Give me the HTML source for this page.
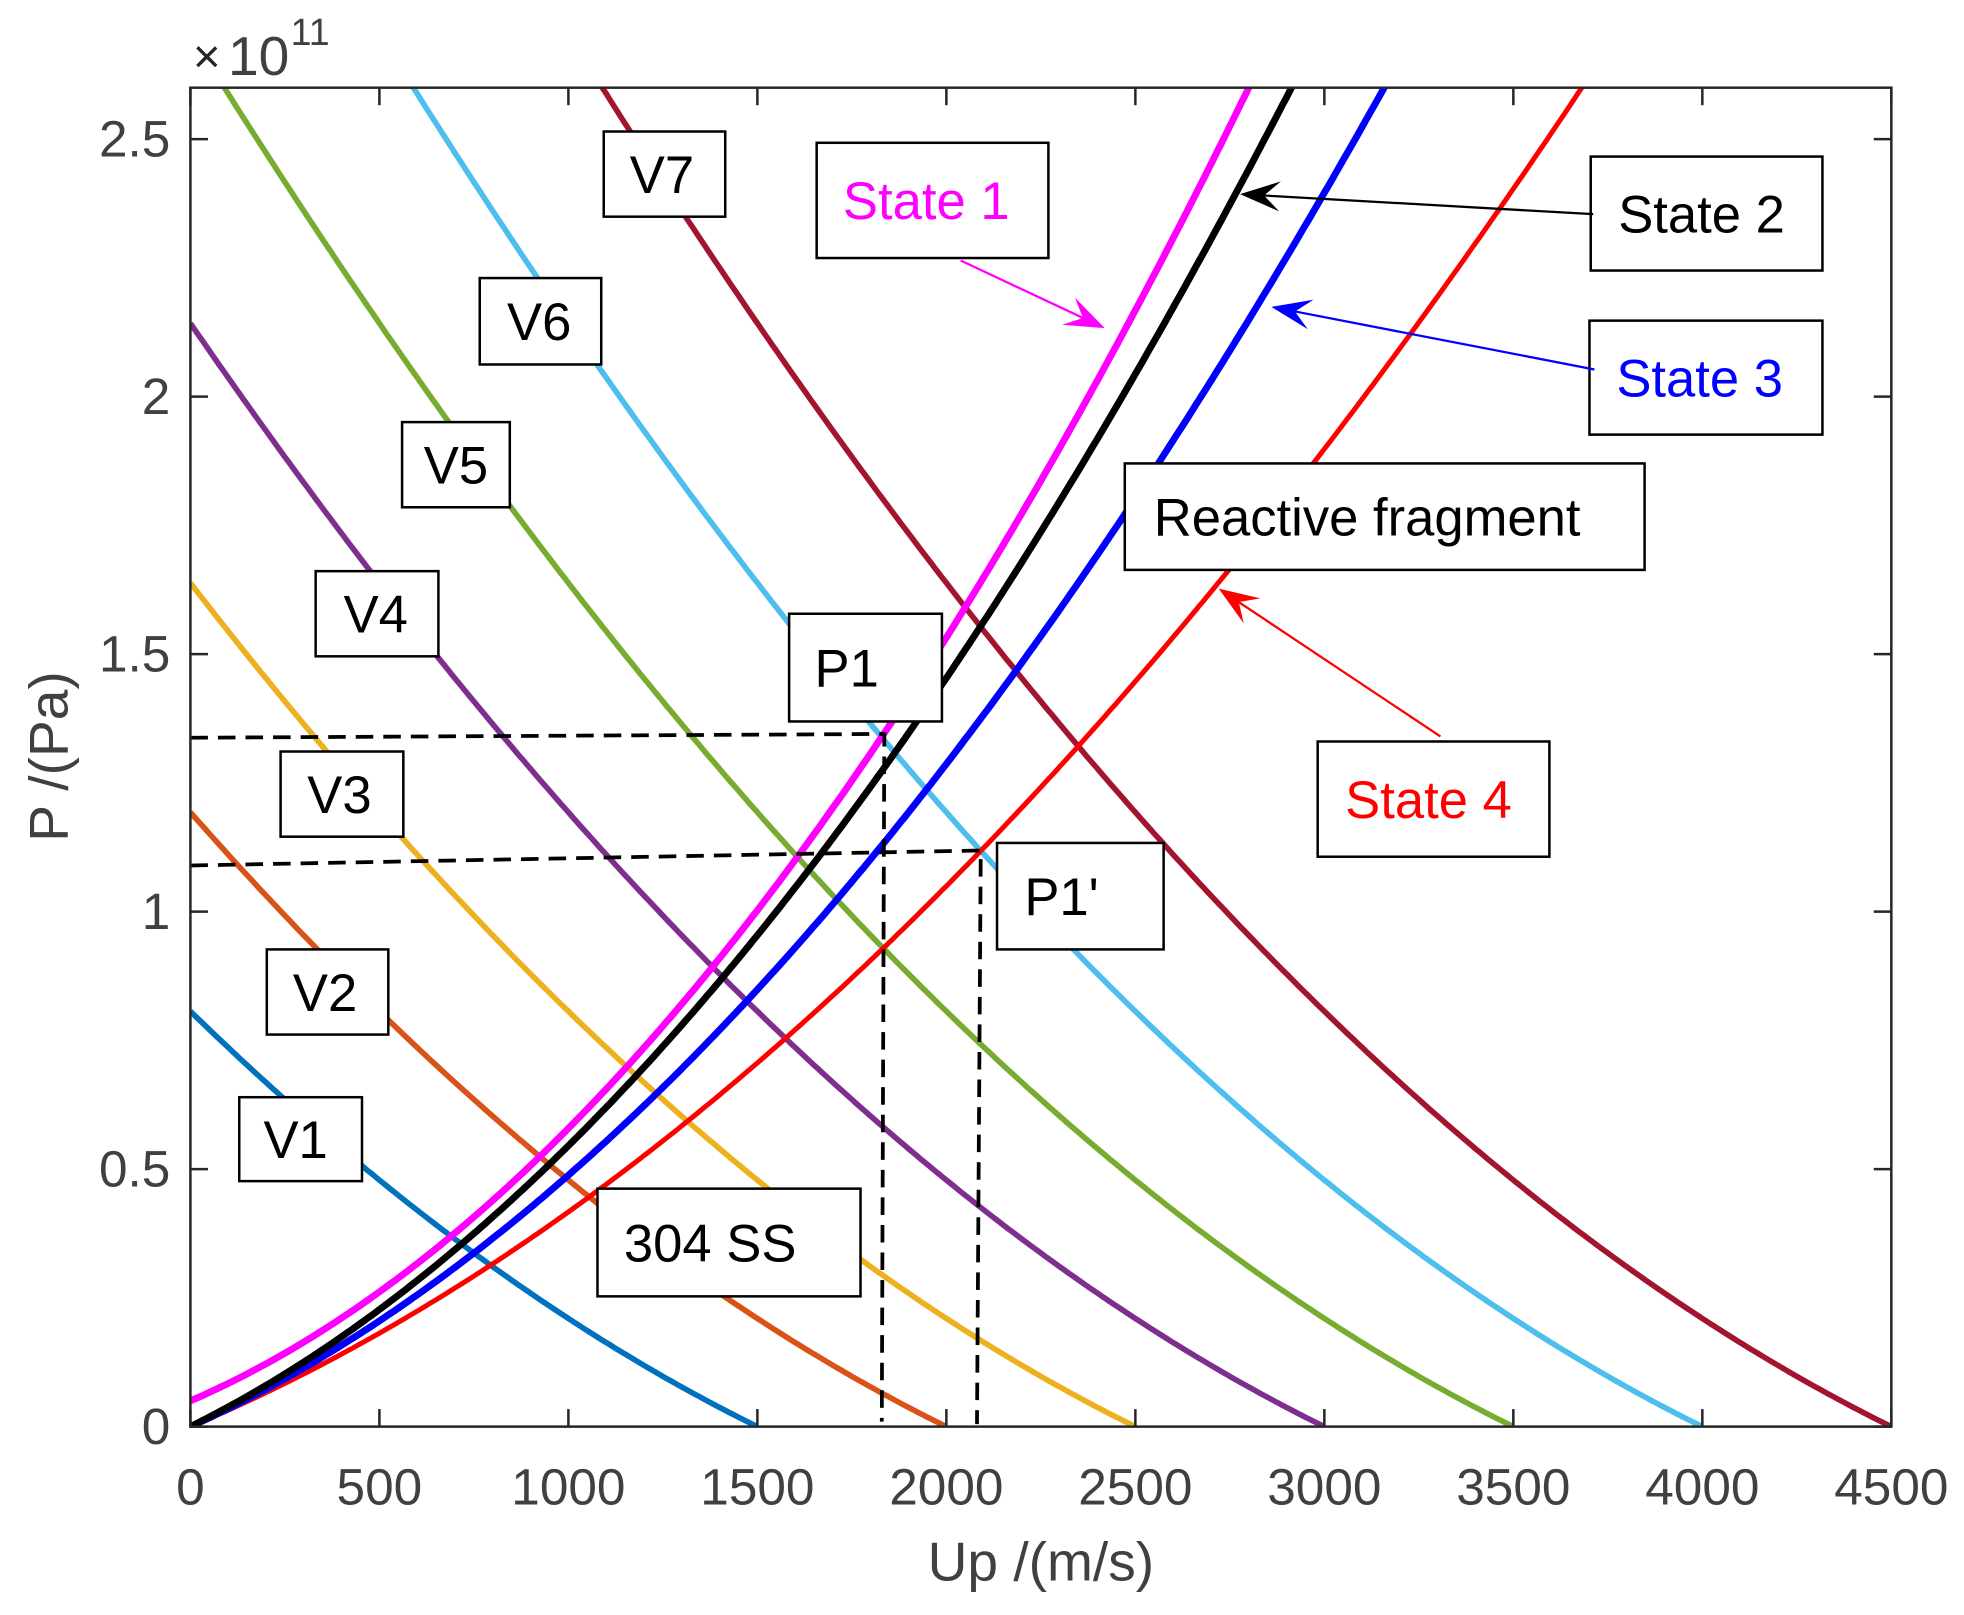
<!DOCTYPE html>
<html><head><meta charset="utf-8"><style>html,body{margin:0;padding:0;background:#fff}svg{display:block}</style></head>
<body>
<svg id="s" width="1964" height="1615" viewBox="0 0 1568 1289.4" xmlns="http://www.w3.org/2000/svg" font-family="Liberation Sans, Arial, sans-serif">
<defs>
<clipPath id="c"><rect x="152" y="70" width="1358" height="1069"/></clipPath>
</defs>
<rect width="1568" height="1290" fill="#fff"/>
<g id="curves" clip-path="url(#c)" fill="none" stroke-linecap="butt"></g>
<g id="dash" fill="none" stroke="#000" stroke-width="3" stroke-dasharray="14,8">
<path d="M152,589 L706,586 L704,1135"/>
<path d="M152,691 L783,679 L780,1137"/>
</g>
<g id="axes" stroke="#262626" stroke-width="2" fill="none"><rect x="152" y="70" width="1358" height="1069"/></g>
<g id="ticks" stroke="#262626" stroke-width="2"></g>
<g id="tl" fill="#404040" font-size="41"></g>
<text x="831" y="1262" font-size="44" fill="#404040" text-anchor="middle">Up /(m/s)</text>
<text transform="translate(54,604) rotate(-90)" font-size="44" fill="#404040" text-anchor="middle">P /(Pa)</text>
<text x="154" y="58" font-size="38" fill="#262626">×</text>
<text x="182" y="60" font-size="44" fill="#404040">10</text>
<text x="232" y="36" font-size="30" fill="#404040">11</text>
<g id="boxes" font-size="42" stroke-width="2"></g>
<g id="arrows"></g>
</svg>
<script>
var NS="http://www.w3.org/2000/svg";
function X(u){return 152+u*1358/4500}
function Y(p){return 1139-p*1069/2.6}
function el(t,a,par){var e=document.createElementNS(NS,t);for(var k in a)e.setAttribute(k,a[k]);document.getElementById(par).appendChild(e);return e}
var cur="curves";
var V=[[1500,"#0072BD"],[2000,"#D95319"],[2500,"#EDB120"],[3000,"#7E2F8E"],[3500,"#77AC30"],[4000,"#4DBEEE"],[4500,"#A2142F"]];
V.forEach(function(v){var d="";for(var u=0;u<=v[0];u+=10){var w=v[0]-u;var p=7900*(4570+1.49*w)*w/1e11;d+=(u?"L":"M")+X(u).toFixed(1)+","+Y(p).toFixed(1)}
el("path",{d:d,stroke:v[1],"stroke-width":4.5},cur)});
var S=[[3.09e7,10793,0,"#FF0000",4],[3.33e7,15522,0,"#0000FF",5.5],[3.64e7,18145,0,"#000000",5.5],[3.173e7,21193,0.05,"#FF00FF",5.5]];
S.forEach(function(s){var d="";for(var u=0;u<=4000;u+=10){var p=s[2]+u*(s[0]+s[1]*u)/1e11;d+=(u?"L":"M")+X(u).toFixed(1)+","+Y(p).toFixed(1);if(p>2.7)break}
el("path",{d:d,stroke:s[3],"stroke-width":s[4]},cur)});
for(var i=0;i<=9;i++){var x=X(i*500);el("line",{x1:x,y1:1139,x2:x,y2:1125},"ticks");el("line",{x1:x,y1:70,x2:x,y2:84},"ticks");
var t=el("text",{x:x,y:1201,"text-anchor":"middle"},"tl");t.textContent=String(i*500)}
var yl=["0","0.5","1","1.5","2","2.5"];
for(var j=0;j<=5;j++){var y=Y(j*0.5);el("line",{x1:152,y1:y,x2:166,y2:y},"ticks");el("line",{x1:1510,y1:y,x2:1496,y2:y},"ticks");
var t=el("text",{x:136,y:y+14,"text-anchor":"end"},"tl");t.textContent=yl[j]}
var B=[["V7",482,105,579,173,"#000",-2],["State 1",652,114,837,206,"#FF00FF",-5],["State 2",1270,125,1455,216,"#000",-4],["State 3",1269,256,1455,347,"#0000FF",-5],
["Reactive fragment",898,370,1313,455,"#000",-14],["State 4",1052,592,1237,684,"#FF0000",-4],["P1",630,490,752,576,"#000",-15],["P1'",796,673,929,758,"#000",-15],
["V6",383,222,480,291,"#000",-1],["V5",321,337,407,405,"#000",0],["V4",252,456,350,524,"#000",-1],["V3",224,600,322,668,"#000",-2],["V2",213,758,310,826,"#000",-2],
["V1",191,876,289,943,"#000",-4],["304 SS",477,949,687,1035,"#000",-15]];
B.forEach(function(b){el("rect",{x:b[1],y:b[2],width:b[3]-b[1],height:b[4]-b[2],fill:"#fff",stroke:"#000"},"boxes");
var cx=(b[1]+b[3])/2+b[6],cy=(b[2]+b[4])/2;var t=el("text",{x:cx,y:cy+15,"text-anchor":"middle",fill:b[5]},"boxes");t.textContent=b[0]});
function arrow(x1,y1,x2,y2,c){var dx=x2-x1,dy=y2-y1,L=Math.sqrt(dx*dx+dy*dy),ux=dx/L,uy=dy/L,px=-uy,py=ux;var h=32,w=12;
var bx=x2-ux*h,by=y2-uy*h,nx=x2-ux*h*0.6,ny=y2-uy*h*0.6;
el("line",{x1:x1,y1:y1,x2:nx,y2:ny,stroke:c,"stroke-width":1.8},"arrows");
el("path",{d:"M"+x2+","+y2+"L"+(bx+px*w)+","+(by+py*w)+"L"+nx+","+ny+"L"+(bx-px*w)+","+(by-py*w)+"Z",fill:c},"arrows")}
arrow(767,208,882,262,"#FF00FF");arrow(1272,171,990,155,"#000");arrow(1273,295,1015,245,"#0000FF");arrow(1150,588,973,470,"#FF0000");
</script>
</body></html>
